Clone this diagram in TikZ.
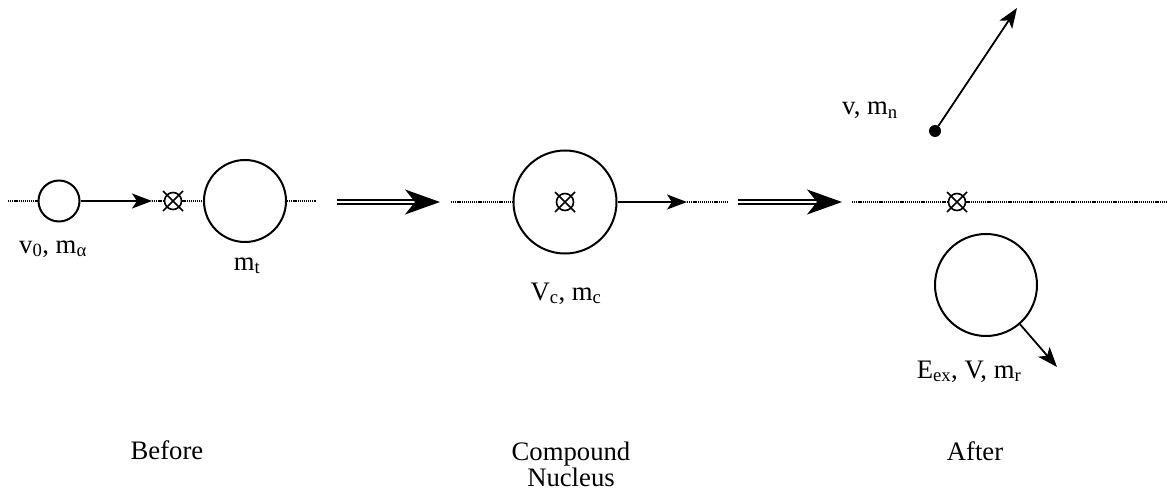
\documentclass[tikz,border=0pt]{standalone}
\usepackage{fontspec}
\setmainfont{Liberation Serif}
\usetikzlibrary{arrows.meta}
\tikzstyle{ball} = [draw, circle, line width=2pt, inner sep=0pt]
\tikzstyle{target} = [draw, circle, line width=1.6pt, inner sep=0pt, minimum size=17pt]
\tikzstyle{cross} = [line width=1.6pt]
\tikzstyle{beamline} = [line width=1.4pt, dash pattern=on 1.2pt off 0.9pt]
\tikzstyle{arrow} = [line width=1.8pt, -{Stealth[length=20pt,width=15pt,inset=5pt]}]
\tikzstyle{stage} = [line width=1.6pt, double, double distance=2.6pt,
  -{Stealth[length=35pt,width=25pt,inset=10pt]}]
\tikzstyle{label} = [inner sep=0pt, anchor=base, align=center]

\begin{document}
\begin{tikzpicture}[x=1pt, y=-1pt, font=\fontsize{26.7}{26}\selectfont]
    \useasboundingbox (0,0) rectangle (1167,497);
    % before
    \node[ball,minimum size=41pt] (alpha) at (59,201) {};
    \node[target] (x1) at (173,201) {};
    \node[ball,minimum size=82pt] (tgt) at (245,201) {};
    \coordinate (s0) at (8,201);
    \coordinate (a1) at (152,201);
    \coordinate (s1) at (316,201);
    \draw[beamline] (s0) -- (alpha);
    \draw[beamline] (a1) -- (x1) -- (tgt) -- (s1);
    \draw[arrow] (alpha) -- (a1);
    \node[label] (lalpha) at (53,253) {v\textsubscript{0}, m\textsubscript{α}};
    \node[label] (ltgt) at (247,270) {m\textsubscript{t}};
    % compound nucleus
    \coordinate (d1a) at (337,202);
    \coordinate (d1b) at (440,202);
    \draw[stage] (d1a) -- (d1b);
    \node[ball,minimum size=103pt] (cn) at (565,202) {};
    \node[target] (x2) at (565,202) {};
    \coordinate (s2) at (451,202);
    \coordinate (a2) at (687,202);
    \coordinate (s3) at (727,202);
    \draw[beamline] (s2) -- (cn);
    \draw[beamline] (a2) -- (s3);
    \draw[arrow] (cn) -- (a2);
    \node[label] (lcn) at (566,300) {V\textsubscript{c}, m\textsubscript{c}};
    % after
    \coordinate (d2a) at (738,202);
    \coordinate (d2b) at (842,202);
    \draw[stage] (d2a) -- (d2b);
    \node[target] (x3) at (957,202) {};
    \coordinate (s4) at (852,202);
    \coordinate (s5) at (1167,202);
    \draw[beamline] (s4) -- (x3) -- (s5);
    \node[circle,fill,inner sep=0pt,minimum size=12pt] (n) at (935,131) {};
    \coordinate (nt) at (1017,8);
    \draw[arrow] (n) -- (nt);
    \node[label] (ln) at (870,115) {v, m\textsubscript{n}};
    \node[ball,minimum size=102pt] (rec) at (986,285) {};
    \coordinate (rt) at (1057,367);
    \draw[arrow] (rec) -- (rt);
    \node[label] (lrec) at (969,378) {E\textsubscript{ex}, V, m\textsubscript{r}};
    \foreach \n in {x1,x2,x3}
        \draw[cross] (\n) ++(-10,-10) -- ++(20,20) ++(0,-20) -- ++(-20,20);
    % captions
    \node[label] (before) at (167,459) {Before};
    \node[label] (during) at (571,486) {Compound\\Nucleus};
    \node[label] (after) at (975,460) {After};
\end{tikzpicture}
\end{document}
